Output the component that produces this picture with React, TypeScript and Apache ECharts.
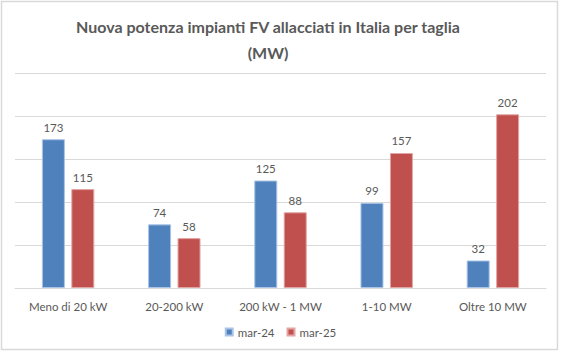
import React, { useEffect, useRef } from "react";
import * as echarts from "echarts";

const categories = ["Meno di 20 kW", "20-200 kW", "200 kW - 1 MW", "1-10 MW", "Oltre 10 MW"];
const seriesNames = ["mar-24", "mar-25"];
const mar24 = [173, 74, 125, 99, 32];
const mar25 = [115, 58, 88, 157, 202];

const FONT = "Lato, 'Open Sans', sans-serif";
const GRAY = "#595959";

export default function App() {
  const ref = useRef<HTMLDivElement>(null);
  useEffect(() => {
    if (!ref.current) return;
    const chart = echarts.init(ref.current, null, { renderer: "svg" });
    const label = {
      show: true,
      position: "top" as const,
      distance: 6,
      color: GRAY,
      fontSize: 11.5,
      fontFamily: FONT,
    };
    chart.setOption({
      animation: false,
      backgroundColor: "#ffffff",
      title: {
        text: "Nuova potenza impianti FV allacciati in Italia per taglia\n(MW)",
        left: 263,
        top: 8,
        textAlign: "center",
        textStyle: {
          color: GRAY,
          fontSize: 16,
          fontWeight: "bold",
          fontFamily: FONT,
          lineHeight: 26,
        },
      },
      graphic: [
        {
          type: "rect",
          shape: { x: 1.5, y: 1.5, width: 556, height: 348 },
          style: { fill: "none", stroke: "#d9d9d9", lineWidth: 1.5 },
          silent: true,
        },
      ],
      legend: {
        data: seriesNames,
        bottom: 9,
        left: "center",
        itemWidth: 7,
        itemHeight: 7,
        itemGap: 12,
        icon: "rect",
        textStyle: { color: GRAY, fontSize: 11.5, fontFamily: FONT },
      },
      grid: { left: 15, right: 15, top: 73, bottom: 64 },
      xAxis: {
        type: "category",
        data: categories,
        axisTick: { show: false },
        axisLine: { show: true, lineStyle: { color: "#d9d9d9", width: 1 } },
        axisLabel: { color: GRAY, fontSize: 11.5, fontFamily: FONT, margin: 12, interval: 0 },
      },
      yAxis: {
        type: "value",
        min: 0,
        max: 250,
        interval: 50,
        axisLabel: { show: false },
        axisLine: { show: false },
        axisTick: { show: false },
        splitLine: { lineStyle: { color: "#d9d9d9", width: 1 } },
      },
      series: [
        {
          name: seriesNames[0],
          type: "bar",
          data: mar24,
          barWidth: 23,
          barGap: "28%",
          itemStyle: { color: "#4F81BD", borderColor: "#a9c4e6", borderWidth: 1 },
          label,
        },
        {
          name: seriesNames[1],
          type: "bar",
          data: mar25,
          barWidth: 23,
          barGap: "28%",
          itemStyle: { color: "#C0504D", borderColor: "#e3a5a3", borderWidth: 1 },
          label,
        },
      ],
    });
    return () => chart.dispose();
  }, []);
  return (
    <div
      ref={ref}
      style={{ position: "fixed", left: 0, top: 0, width: 561, height: 352 }}
    />
  );
}
